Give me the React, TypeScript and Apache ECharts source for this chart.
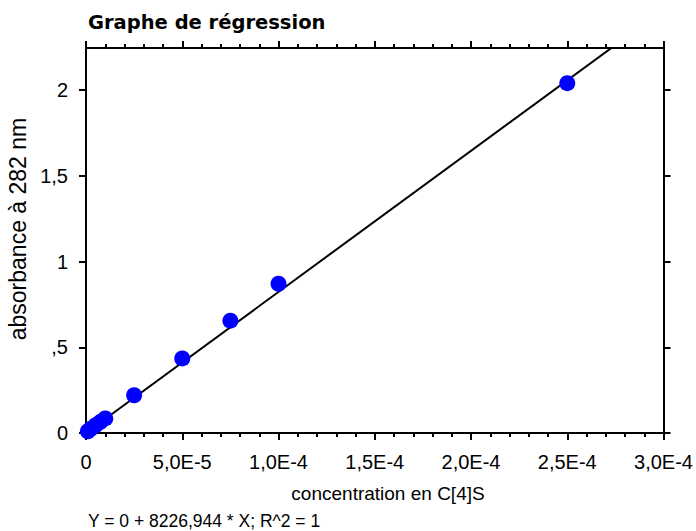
import React, { useEffect, useRef } from 'react';
import * as echarts from 'echarts';

// Data
const concentrations = [1e-6, 2.5e-6, 5e-6, 7.5e-6, 1e-5, 2.5e-5, 5e-5, 7.5e-5, 1e-4, 2.5e-4];
const absorbances = [0.01, 0.025, 0.045, 0.065, 0.085, 0.22, 0.435, 0.655, 0.87, 2.04];

// Regression line: Y = intercept + slope * X
const slope = 8226.944;
const intercept = 0;
const regressionX = [0, 3e-4];

const yTickValues = [0, 0.5, 1, 1.5, 2];

const titleText = 'Graphe de régression';
const xAxisName = 'concentration en C[4]S';
const yAxisName = 'absorbance à 282 nm';
const formulaText = 'Y = 0 + 8226,944 * X; R^2 = 1';

const FONT = '"Liberation Sans", Arial, sans-serif';

function fmtX(v: number): string {
  if (Math.abs(v) < 1e-12) return '0';
  return v.toExponential(1).replace('.', ',').replace('e-', 'E-').replace('e+', 'E+');
}
function fmtY(v: number): string {
  if (Math.abs(v) < 1e-9) return '0';
  let s = String(Math.round(v * 100) / 100).replace('.', ',');
  if (s.startsWith('0,')) s = s.slice(1);
  return s;
}

export default function App() {
  const ref = useRef<HTMLDivElement>(null);
  useEffect(() => {
    if (!ref.current) return;
    const chart = echarts.init(ref.current, undefined, { renderer: 'svg' });
    const axisLine = { onZero: false, lineStyle: { color: '#000', width: 2 } };
    const xCommon = {
      type: 'value',
      min: 0,
      max: 3e-4,
      interval: 5e-5,
      axisLine,
      axisTick: { length: 7, lineStyle: { color: '#000', width: 2 } },
      minorTick: { show: true, splitNumber: 5, length: 4, lineStyle: { color: '#000', width: 2 } },
      splitLine: { show: false },
      minorSplitLine: { show: false },
    };
    const yCommon = {
      type: 'value',
      min: 0,
      max: 2.245,
      axisLine,
      axisTick: { length: 7, customValues: yTickValues, lineStyle: { color: '#000', width: 2 } },
      splitLine: { show: false },
    };
    chart.setOption({
      animation: false,
      grid: { left: 86, right: 30, top: 48, bottom: 98, containLabel: false },
      xAxis: [
        {
          ...xCommon,
          position: 'bottom',
          axisLabel: { formatter: fmtX, color: '#000', fontSize: 20, fontFamily: FONT, margin: 19 },
        },
        { ...xCommon, position: 'top', axisLabel: { show: false } },
      ],
      yAxis: [
        {
          ...yCommon,
          position: 'left',
          axisLabel: {
            customValues: yTickValues,
            formatter: fmtY,
            color: '#000',
            fontSize: 20,
            fontFamily: FONT,
            margin: 18,
          },
        },
        { ...yCommon, position: 'right', axisLabel: { show: false } },
      ],
      series: [
        {
          type: 'line',
          xAxisIndex: 0,
          yAxisIndex: 0,
          data: regressionX.map((x) => [x, intercept + slope * x]),
          symbol: 'none',
          clip: true,
          lineStyle: { color: '#000', width: 2 },
          z: 2,
        },
        {
          type: 'scatter',
          xAxisIndex: 0,
          yAxisIndex: 0,
          data: concentrations.map((c, i) => [c, absorbances[i]]),
          symbolSize: 16,
          itemStyle: { color: '#0000ff', opacity: 1 },
          z: 3,
        },
      ],
      graphic: [
        {
          type: 'text',
          x: 88,
          y: 22,
          style: {
            text: titleText,
            fill: '#000',
            font: 'bold 19.5px "DejaVu Sans", sans-serif',
            align: 'left',
            verticalAlign: 'middle',
          },
        },
        {
          type: 'text',
          x: 388,
          y: 493,
          style: { text: xAxisName, fill: '#000', font: '19px ' + FONT, align: 'center', verticalAlign: 'middle' },
        },
        {
          type: 'text',
          x: 18,
          y: 229,
          rotation: Math.PI / 2,
          style: { text: yAxisName, fill: '#000', font: '23px ' + FONT, align: 'center', verticalAlign: 'middle' },
        },
        {
          type: 'text',
          x: 88,
          y: 521,
          style: { text: formulaText, fill: '#000', font: '17.5px ' + FONT, align: 'left', verticalAlign: 'middle' },
        },
      ],
    });
    return () => chart.dispose();
  }, []);
  return (
    <div
      ref={ref}
      style={{ position: 'fixed', left: 0, top: 0, width: 696, height: 531, background: '#fff' }}
    />
  );
}
